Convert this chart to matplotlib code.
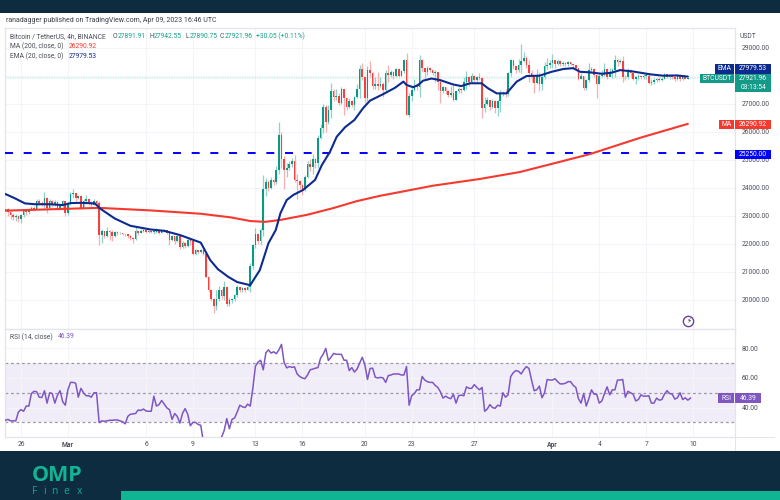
import matplotlib
matplotlib.use('Agg')
import matplotlib.pyplot as plt
from matplotlib.patches import Rectangle

close = [
23260,23130,23050,22950,23000,22900,
23030,23180,23130,23260,23300,23240,
23550,23480,23420,23650,23300,23530,
23420,23500,23300,23350,23520,23100,
23450,23780,23830,23650,23720,23300,
23520,23620,23480,23400,23540,23480,
22330,22450,22300,22470,22420,22280,
22430,22380,22400,22370,22340,22290,
22230,22170,22450,22400,22480,22500,
22440,22460,22420,22430,22480,22400,
22460,22500,22400,22150,22270,22100,
22280,21880,22050,21920,22160,22100,
21650,21780,21720,21800,21650,20830,
20360,20050,19800,20030,20350,20150,
20450,19870,20000,20020,20180,20450,
20350,20430,20350,20450,21200,21950,
22350,22100,22500,23950,24200,24000,
24280,24200,24650,25900,25050,24640,
24700,24850,24950,24300,24250,24100,
23950,24400,24850,24750,25050,24900,
25800,26150,26900,26370,26800,27450,
27250,27300,27050,27550,27200,26900,
27100,26950,27250,27550,28250,27950,
27200,28200,28100,27650,27720,27650,
27720,27500,28100,28050,28150,28000,
28250,28000,28180,28560,26620,27300,
27500,27650,27600,28560,28270,28130,
28300,28200,28100,28150,27800,27450,
27600,27450,27330,27400,27160,27450,
27550,27500,27800,27950,27800,28000,
27850,27950,27920,26840,27000,27130,
26880,27100,26850,27100,27370,27400,
27340,28090,28570,28350,28210,28380,
28550,28650,28400,28090,28000,27750,
28050,27700,27950,28350,28380,28450,
28570,28420,28550,28420,28480,28420,
28500,28430,28380,28300,27900,28000,
27560,27850,28200,28250,28050,27700,
28000,28050,28250,27950,28150,28200,
28570,28500,28540,27980,27950,28200,
28100,27900,27950,28000,27950,28000,
28000,27750,27780,27860,27880,27870,
27900,28060,27980,28000,27950,27880,
28000,27900,27960,27891.91,27921.96]

high = [
23300,23280,23150,23100,23080,23040,
23080,23240,23230,23300,23360,23340,
23620,23600,23540,23870,23680,23600,
23560,23560,23520,23400,23580,23550,
23500,23850,23960,23800,23760,23750,
23600,23760,23640,23520,23600,23560,
23520,22550,22470,22600,22500,22500,
22480,22450,22430,22410,22380,22350,
22310,22240,22600,22470,22530,22540,
22500,22510,22470,22470,22570,22480,
22500,22530,22500,22430,22320,22290,
22320,22300,22100,22070,22260,22230,
22150,21820,21780,21830,21820,21700,
20850,20380,20080,20350,20500,20400,
20680,20500,20060,20080,20230,20550,
20480,20480,20450,20550,21320,22000,
22570,22400,22560,24460,24350,24300,
24400,24320,24800,26360,26000,25150,
24900,24980,25060,25180,24500,24300,
24150,24470,24950,25050,25200,25080,
25900,26300,27000,26950,26950,27750,
27550,27550,27400,27600,27400,27250,
27200,27150,27300,27700,28400,28450,
28000,28350,28530,28150,27950,28150,
27950,27780,28200,28380,28200,28180,
28300,28280,28230,28600,28830,27400,
27600,27900,27750,28745,28600,28300,
28350,28320,28220,28200,28150,27850,
27650,27620,27500,27650,27700,27480,
27600,27580,27950,28180,28000,28120,
28020,28000,28100,27950,27250,27250,
27100,27170,27130,27150,27500,27480,
27550,28150,28600,28500,28370,28600,
29130,28850,28720,28580,28200,28000,
28250,28150,28050,28500,28650,28560,
28800,28570,28600,28560,28520,28500,
28550,28500,28440,28400,28300,28100,
28000,27900,28470,28320,28300,28050,
28100,28200,28450,28280,28300,28300,
28750,28600,28620,28700,28050,28270,
28240,28120,28000,28060,28000,28060,
28060,28100,27880,27920,27930,27950,
27960,28100,28080,28040,28020,27980,
28060,27980,28010,27942.55,27950]

low = [
23050,23000,22880,22850,22820,22780,
22750,22980,23050,23080,23200,23180,
23200,23400,23350,23300,23100,23250,
23330,23350,23220,23230,23280,23000,
23050,23400,23650,23550,23600,23250,
23270,23450,23380,23330,23380,23400,
21950,22050,22200,22250,22150,22100,
22250,22320,22340,22320,22280,22230,
22150,22050,22150,22330,22380,22420,
22390,22400,22380,22370,22400,22350,
22380,22420,22350,21950,22100,22000,
22060,21830,21850,21870,21900,21950,
21600,21620,21660,21680,21600,20780,
20300,19950,19520,19650,19980,20050,
20000,19800,19780,19880,19980,20120,
20300,20300,20300,20340,20300,21100,
21850,22000,21950,22300,23700,23900,
23950,24100,24150,24500,24700,23950,
24400,24650,24750,24200,23600,23980,
23750,23900,24350,24600,24500,24700,
24700,25750,25950,26000,26300,26500,
27100,27150,26950,27000,26600,26800,
26850,26880,26800,27200,27200,27850,
27050,27100,27950,27550,27550,27500,
27600,27250,27450,27800,27950,27900,
27950,27950,28000,28100,26600,26550,
27100,27450,27500,27250,28150,27900,
28050,28150,28050,27800,27500,27020,
27400,27350,27250,27250,27100,27130,
27400,27400,27450,27550,27650,27750,
27800,27800,27850,26500,26700,26950,
26780,26850,26680,26580,26700,27280,
27250,27300,28000,28250,28100,28150,
28100,28500,28300,27800,27800,27400,
27700,27450,27500,27900,28250,28300,
28300,28300,28380,28350,28350,28350,
28350,28380,28300,28200,27850,27900,
27500,27500,27800,28120,27950,27200,
27700,27950,28000,27900,28000,27920,
27950,28350,28450,27800,27850,27900,
27950,27850,27700,27850,27880,27900,
27900,27700,27680,27720,27780,27810,
27820,27880,27920,27880,27880,27830,
27860,27820,27850,27890.75,27880]
first_open = 23200

ema_bar = [0,3.7,7.5,11.4,17,22,25,29,34.4,36.3,42,48,55.6,61,67,75,78.6,81.6,85.5,89,94,97.7,101,103.8,
           105.6,108,110.5,114.3,118.9,121.5,124.6,127.2,130.4,134,137.4,140,145,149.6,152.8,154,156.5,158.5,
           160.3,163.6,167,171.8,175,178.4,182.8,185.3,188.6,192.4,196.3,200.1,205,209.7,214.2,218,220.6,224.4,
           229,232.8,236,241,247.5,252.6,257.7,262]
ema_val = [23785,23630,23450,23420,23420,23390,23460,23470,23450,23270,22910,22650,22520,22470,22320,22050,21430,21100,
           20830,20640,20530,21070,22030,22500,23100,23570,23750,23930,24290,24820,25290,25830,26170,26430,26860,27120,
           27350,27580,27800,27680,27600,27680,27830,27910,27850,27700,27640,27740,27740,27560,27380,27380,27800,28000,
           28010,28150,28250,28280,28150,28130,28080,28120,28210,28160,28060,28010,28020,27979.53]
ma_bar = [0,21,36,55.6,75,86.6,94,99.7,105.6,115.7,125.8,134.9,143.8,154,164,182,197.5,211,224.4,243.6,262]
ma_val = [23190,23250,23290,23200,23080,22950,22820,22790,22860,23040,23280,23530,23720,23900,24080,24320,24570,24890,25210,25790,26290.92]

rsi = [31.4,32,31,31,31,37,38.6,37.5,41,41,49.5,51,50.7,47,46.8,51.4,43,50,49.5,43,48.4,51.4,44,41.6,52,57,57,56.4,47,53,
50,48,48,47,50,50,29.8,31,30.7,31,31.4,31.4,31.6,31.6,31,30.4,29,34,35.5,35.7,36,38.4,38,39,37.7,37.5,37.5,47.7,41,42,
44.8,42.3,39.8,38.6,32,36,34,29.5,36,39.3,35.5,27.7,30,30,28.6,28,17,16,15,16,17,18,19,20,24.5,32.5,25.7,32,33,37,41.6,
40.5,40,42.3,41,53,68,70.7,72,65.5,77,79,76.8,77.7,76.4,79,82.7,70.5,66.8,67.7,67.2,67.5,62.7,61,60,59.5,62,65.5,66,66.6,
67,73.4,76,80,71.8,74,76.6,76,76,76,72,72,65,67,64,66,70,74,69,59,66.4,66.6,60.5,60,60.4,60,57,61.6,62,62.7,62.7,62.7,
62,62,67.7,41.6,48,49.5,52,52,61,58.6,57.5,57,57,55,53.6,50.7,46.4,47.7,46.6,46,49,43,48,48.4,48,54,53,53,55.5,53.6,52,
53.6,37.5,39,42,40,39.5,41.6,41,50,47,48.6,61,63.6,65,64.5,62.7,65.5,67.7,66.4,58.6,51.4,52,54.5,46.6,50,59,58.6,58.6,
59.5,57.5,56,56,56.4,57.5,57.5,55,53.6,46,43,49.5,41,46,52,49,49,43,44.5,49.5,54,48.6,52,52,58.6,58.6,59,47,51,50,49,
44.5,45.4,48.6,47.7,47.7,48,43,43,46.4,45,45.4,49,51.4,49.5,49,45.7,46.6,50,45.4,46.6,45,46.39]

price_ticks = [20000,21000,22000,23000,24000,25000,26000,27000,28000,29000]
price_tick_labels = ['20000.00','21000.00','22000.00','23000.00','24000.00','25000.00','26000.00','27000.00','','29000.00']
rsi_ticks = [40,60,80]
date_bars = [6,24,54,72,96,114,138,156,180,210,228,246,264]
date_labels = ['26','Mar','6','9','13','16','20','23','27','Apr','4','7','10']
level = 25250

assert len(close) == len(high) == len(low), (len(close), len(high), len(low))

plt.rcParams['font.family'] = ['Roboto', 'DejaVu Sans']
W, H = 780, 500
UP, DN = '#0a9a84', '#f4403f'
UPW, DNW = '#8fd3c8', '#f9aeb0'
NAVY, RED, BLUE, PURP = '#0d2b8e', '#f5392e', '#0000ff', '#7e57c2'
DARK = '#0d2c40'
GRID = '#f3f5f9'
LINE = '#e2e5ec'
TXT = '#4a4e59'
FS = 4.9

fig = plt.figure(figsize=(7.8, 5), dpi=100, facecolor='white')

def axpx(x0, y0, x1, y1):
    return fig.add_axes([x0/W, 1-y1/H, (x1-x0)/W, (y1-y0)/H])

def rect(x0, y0, x1, y1, c, z=5):
    fig.add_artist(Rectangle((x0/W, 1-y1/H), (x1-x0)/W, (y1-y0)/H, transform=fig.transFigure,
                             fc=c, ec='none', zorder=z))

def txt(x, y, s, c=TXT, fs=FS, ha='left', **k):
    fig.text(x/W, 1-y/H, s, color=c, fontsize=fs, ha=ha, va='center', zorder=8, **k)

XL = (-0.142, 280.1)
ax = axpx(5, 28, 735, 329)
rx = axpx(5, 329, 735, 437)
for a in (ax, rx):
    a.set_xlim(*XL)
    a.set_xticks(date_bars)
    a.yaxis.tick_right()
    a.grid(True, color=GRID, lw=0.8)
    a.set_axisbelow(True)
    a.tick_params(length=0, labelsize=FS, labelcolor=TXT, pad=5)
    for s in a.spines.values():
        s.set_color(LINE)
        s.set_linewidth(0.9)
ax.set_ylim(18964, 29714)
ax.set_yticks(price_ticks)
ax.set_yticklabels(price_tick_labels)
ax.tick_params(labelbottom=False)
rx.set_ylim(20.1, 93.1)
rx.set_yticks(rsi_ticks)
rx.set_yticklabels([f'{v:.2f}' for v in rsi_ticks])
rx.set_xticklabels(date_labels)
rx.tick_params(axis='x', pad=3)
for lab, t in zip(date_labels, rx.get_xticklabels()):
    if lab in ('Mar', 'Apr'):
        t.set_fontweight('bold')

# last price line and horizontal level
ax.axhline(close[-1], color='#cfeee9', lw=1.1, ls=(0, (1, 0.6)), zorder=1)
ax.plot([XL[0], 276], [level, level], color=BLUE, lw=1.4, ls=(0, (4.1, 5.5)), zorder=4)

# candles
opens = [first_open] + close[:-1]
bars = list(range(len(close)))
wc = [UPW if c >= o else DNW for o, c in zip(opens, close)]
bc = [UP if c >= o else DN for o, c in zip(opens, close)]
ax.vlines(bars, low, high, colors=wc, lw=0.9, zorder=2)
ax.bar(bars, [max(abs(c-o), 28) for o, c in zip(opens, close)],
       bottom=[min(o, c) for o, c in zip(opens, close)],
       width=0.62, color=bc, lw=0, zorder=3)

ax.plot(ma_bar, ma_val, color=RED, lw=1.5, zorder=5, solid_capstyle='round')
ax.plot(ema_bar, ema_val, color=NAVY, lw=1.5, zorder=6, solid_capstyle='round')

# event marker
ax.scatter([262.2], [18964 + (329-321)*35.714], s=55, facecolor='white', edgecolor='#6b3fa0', lw=1, zorder=7)
ax.text(262.2, 18964 + (329-321)*35.714, '\u26a1', fontsize=5, color='#222222', ha='center', va='center',
        family='DejaVu Sans', zorder=8)

# RSI
rx.axhspan(30, 70, color=PURP, alpha=0.10, lw=0, zorder=0)
for v in (30, 50, 70):
    rx.axhline(v, color='#9a9aa2', lw=0.9, ls=(0, (2.2, 2.2)), zorder=1)
rx.plot(range(len(rsi)), rsi, color=PURP, lw=1.1, zorder=3)

# bands
rect(0, 0, W, 13, DARK)
rect(0, 451, W, H, DARK)
rect(121, 491, W, H, '#10b594', z=6)
# axis extension lines
rect(735, 28, 735.9, 451, LINE, z=1)
rect(5, 436.6, 775, 437.5, LINE, z=1)

# header text
txt(6, 21, 'ranadagger published on TradingView.com, Apr 09, 2023 16:46 UTC', c='#3b3f4a', fs=5.0)
TEAL = '#14a08c'
txt(10, 36.5, 'Bitcoin / TetherUS, 4h, BINANCE')
for x, a, b in [(113, 'O', '27891.91'), (149, 'H', '27942.55'), (185, 'L', '27890.75'), (220, 'C', '27921.96')]:
    txt(x, 36.5, a)
    txt(x+4.5, 36.5, b, c=TEAL)
txt(256, 36.5, '+30.05 (+0.11%)', c=TEAL)
txt(10, 46.5, 'MA (200, close, 0)')
txt(69, 46.5, '26290.92', c=RED)
txt(10, 56, 'EMA (20, close, 0)')
txt(69, 56, '27979.53', c=NAVY)
txt(10, 337, 'RSI (14, close)')
txt(58, 337, '46.39', c=PURP)
txt(740, 36, 'USDT')

# price tags
def tag(x0, x1, y0, y1, c, s, cx=None, yt=None):
    rect(x0, y0, x1, y1, c, z=7)
    txt((x0+x1)/2 if cx is None else cx, (y0+y1)/2 if yt is None else yt, s, c='white', ha='center')

tag(715, 734.4, 64, 73.5, NAVY, 'EMA')
tag(735.4, 771, 64, 73.5, NAVY, '27979.53')
tag(700, 734.4, 74, 83, '#149a88', 'BTCUSDT')
tag(735.4, 771, 74, 91.5, '#149a88', '27921.96', yt=78.6)
txt(753.2, 87.2, '03:13:54', c='white', ha='center')
tag(719, 734.4, 120, 129, RED, 'MA')
tag(735.4, 771, 120, 129, RED, '26290.92')
tag(735.4, 771, 149.5, 158.5, BLUE, '25250.00')
tag(718, 734.4, 393, 403, PURP, 'RSI')
tag(735.4, 761, 393, 403, PURP, '46.39')

# logo
txt(57, 475.5, 'OMP', c='#10b594', fs=15.5, ha='center', fontweight='bold', family='Open Sans')
for x, ch in zip([34.5, 44, 54, 66.5, 79.5], 'Finex'):
    txt(x, 491.5, ch, c='#10a88c', fs=7.5, ha='center', family='Open Sans')

fig.savefig('out.png', dpi=100, facecolor='white')
